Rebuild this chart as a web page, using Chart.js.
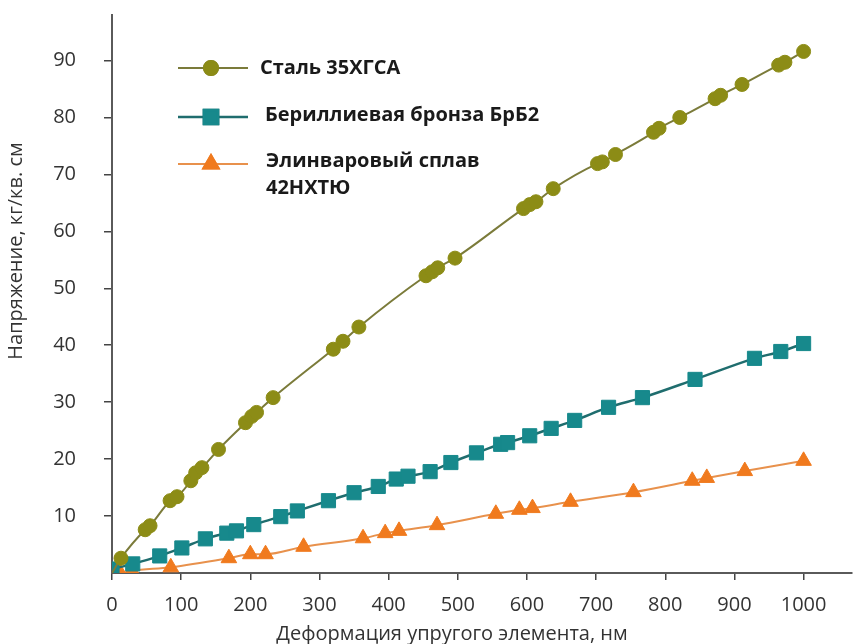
<!DOCTYPE html>
<html>
<head>
<meta charset="utf-8">
<script src="https://cdn.jsdelivr.net/npm/chart.js@4.4.1/dist/chart.umd.min.js"></script>
<style>
    html, body { margin: 0; padding: 0; background: #fff; }
    #wrap { width: 863px; height: 644px; }
</style>
</head>
<body>
<div id="wrap"><canvas id="stressChart" width="863" height="644"></canvas></div>
<script>
// деформация, нм / напряжение, кг/кв. см
let steelX = [0, 13, 48, 55, 84, 94, 114, 121, 130, 154, 193, 202, 209, 233, 320, 334, 357, 454, 463, 471, 496, 595, 604, 613, 638, 702, 709, 728, 783, 791, 821, 872, 880, 911, 964, 973, 1000];
let steelY = [0, 2.6, 7.6, 8.3, 12.7, 13.4, 16.2, 17.6, 18.5, 21.7, 26.4, 27.5, 28.2, 30.8, 39.3, 40.7, 43.2, 52.2, 52.9, 53.6, 55.3, 64.0, 64.7, 65.2, 67.5, 71.9, 72.2, 73.5, 77.4, 78.1, 80.0, 83.3, 83.9, 85.8, 89.2, 89.7, 91.6];

let bronzeX = [0, 30, 69, 101, 135, 166, 180, 205, 244, 268, 313, 350, 385, 411, 428, 460, 490, 527, 562, 572, 604, 635, 669, 718, 767, 843, 929, 967, 1000];
let bronzeY = [0.7, 1.6, 3.0, 4.4, 6.0, 7.0, 7.4, 8.5, 9.9, 10.9, 12.7, 14.1, 15.2, 16.5, 17.0, 17.8, 19.4, 21.1, 22.6, 22.9, 24.1, 25.4, 26.8, 29.1, 30.8, 34.0, 37.7, 38.9, 40.3];

let alloyX = [0, 12, 29, 85, 169, 200, 222, 277, 363, 395, 415, 470, 555, 589, 608, 663, 754, 839, 860, 915, 1000];
let alloyY = [0, 0, 0.4, 1.0, 2.6, 3.3, 3.3, 4.6, 6.1, 7.0, 7.4, 8.4, 10.4, 11.1, 11.4, 12.5, 14.2, 16.2, 16.7, 17.9, 19.7];

let seriesNames = ['Сталь 35ХГСА', 'Бериллиевая бронза БрБ2', ['Элинваровый сплав', '42НХТЮ']];
let xTickValues = [0, 100, 200, 300, 400, 500, 600, 700, 800, 900, 1000];
let yTickValues = [10, 20, 30, 40, 50, 60, 70, 80, 90];
let xTitle = 'Деформация упругого элемента, нм';
let yTitle = 'Напряжение, кг/кв. см';

const FONT = '"Open Sans", "DejaVu Sans", sans-serif';

function toPoints(xs, ys) {
    let pts = [];
    xs.forEach(function (x, i) {
        pts.push({ x: x, y: ys[i] });
    });
    return pts;
}

const styles = [
    { line: '#7b7b3a', fill: '#8c8c16', pointStyle: 'circle', radius: 7, width: 2 },
    { line: '#1f6d6e', fill: '#17898c', pointStyle: 'rect', radius: 10, width: 2.5 },
    { line: '#e8914c', fill: '#f07a1e', pointStyle: 'triangle', radius: 9, width: 2 }
];

// legend and axis titles, placed like in the original figure
const extras = {
    id: 'extras',
    afterDraw(chart) {
        const c = chart.ctx;
        c.save();

        const rows = [
            { y: 68, tx: 260, ty: [68] },
            { y: 117, tx: 265, ty: [115] },
            { y: 164, tx: 266, ty: [161, 188] }
        ];
        rows.forEach(function (row, i) {
            const s = styles[i];
            c.strokeStyle = s.line;
            c.lineWidth = s.width;
            c.beginPath();
            c.moveTo(178, row.y);
            c.lineTo(248, row.y);
            c.stroke();
            Chart.helpers.drawPoint(c, {
                pointStyle: s.pointStyle,
                radius: s.radius,
                borderWidth: 1,
                rotation: 0
            }, 211, row.y);
            c.fillStyle = s.fill;
            c.strokeStyle = s.fill;
            c.fill();
            c.stroke();

            c.fillStyle = '#1a1a1a';
            c.font = 'bold 20px ' + FONT;
            c.textAlign = 'left';
            c.textBaseline = 'middle';
            let names = Array.isArray(seriesNames[i]) ? seriesNames[i] : [seriesNames[i]];
            names.forEach(function (n, k) {
                c.fillText(n, row.tx, row.ty[k]);
            });
        });

        c.fillStyle = '#333';
        c.font = '20px ' + FONT;
        c.textAlign = 'center';
        c.textBaseline = 'middle';
        c.fillText(xTitle, 452, 634);

        c.translate(16, 251);
        c.rotate(-Math.PI / 2);
        c.fillText(yTitle, 0, 0);
        c.restore();
    }
};

let ctx = document.getElementById('stressChart').getContext('2d');

let stressChart = new Chart(ctx, {
    type: 'line',
    data: {
        datasets: [steelX, bronzeX, alloyX].map(function (xs, i) {
            const ys = [steelY, bronzeY, alloyY][i];
            const s = styles[i];
            return {
                label: Array.isArray(seriesNames[i]) ? seriesNames[i].join(' ') : seriesNames[i],
                data: toPoints(xs, ys),
                borderColor: s.line,
                borderWidth: s.width,
                backgroundColor: s.fill,
                pointBackgroundColor: s.fill,
                pointBorderColor: s.fill,
                pointBorderWidth: 1,
                pointStyle: s.pointStyle,
                pointRadius: (i === 0) ? (c => c.dataIndex === 0 ? 0 : s.radius) : s.radius,
                cubicInterpolationMode: 'monotone',
                fill: false
            };
        })
    },
    options: {
        responsive: false,
        animation: false,
        events: [],
        layout: { padding: { left: 0, right: 8, top: 15, bottom: 0 } },
        plugins: {
            legend: { display: false },
            tooltip: { enabled: false }
        },
        scales: {
            x: {
                type: 'linear',
                min: 0,
                max: 1070,
                afterFit: s => { s.height = 71; s.paddingLeft = 0; s.paddingRight = 0; },
                afterBuildTicks: s => { s.ticks = xTickValues.map(v => ({ value: v })); },
                grid: { drawOnChartArea: false, drawTicks: true, tickLength: 7, color: '#444', lineWidth: 1.5 },
                border: { color: '#5a5a5a', width: 2 },
                ticks: {
                    color: '#333', padding: 13, maxRotation: 0, autoSkip: false,
                    font: { family: FONT, size: 20 },
                    callback: v => String(v)
                }
            },
            y: {
                min: 0,
                max: 98,
                afterFit: s => { s.width = 112; s.paddingTop = 0; s.paddingBottom = 0; },
                afterBuildTicks: s => { s.ticks = yTickValues.map(v => ({ value: v })); },
                grid: { drawOnChartArea: false, drawTicks: true, tickLength: 8, color: '#444', lineWidth: 1.5 },
                border: { color: '#5a5a5a', width: 2 },
                ticks: {
                    color: '#333', padding: 28, autoSkip: false,
                    font: { family: FONT, size: 20 },
                    callback: v => String(v)
                }
            }
        }
    },
    plugins: [extras]
});
</script>
</body>
</html>
